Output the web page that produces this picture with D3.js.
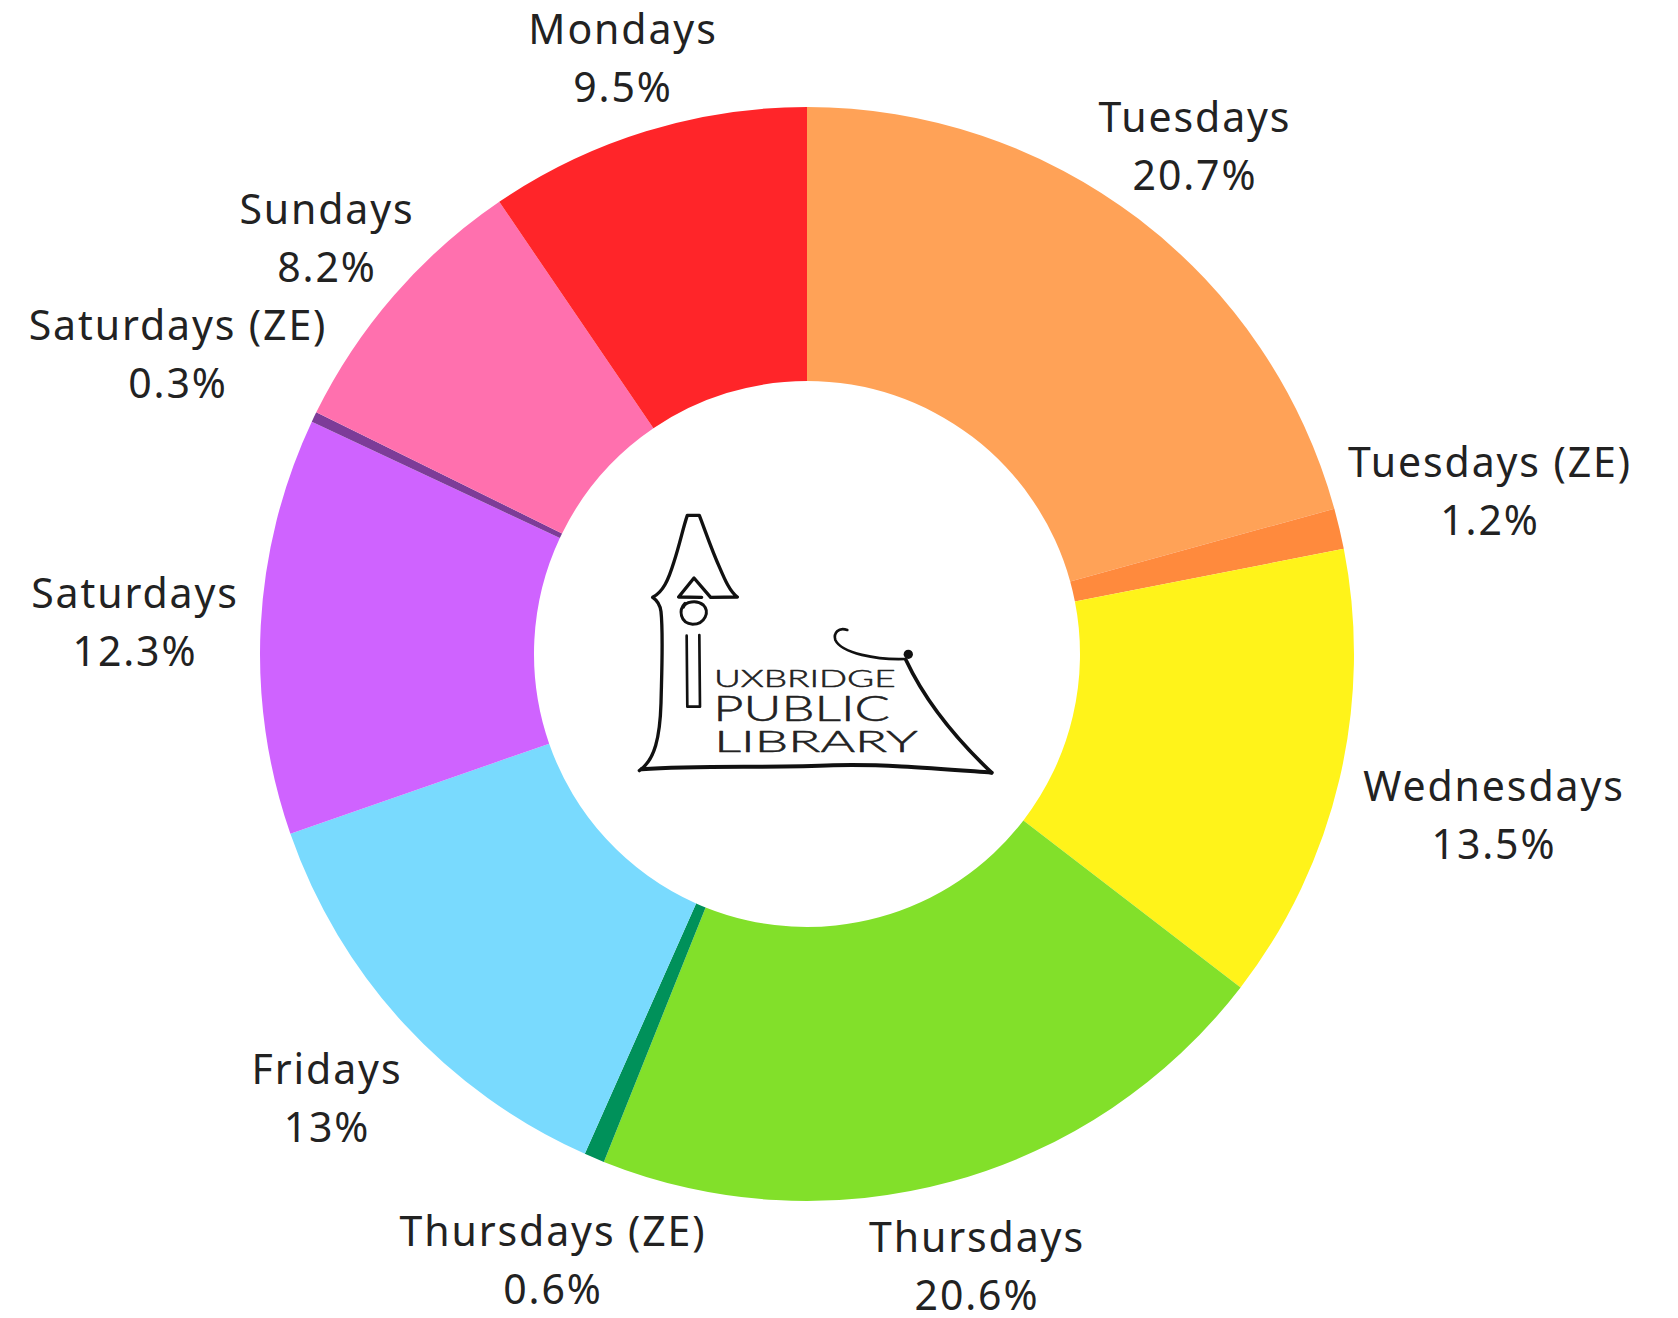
<!DOCTYPE html>
<html><head><meta charset="utf-8">
<style>html,body{margin:0;padding:0;background:#fff;overflow:hidden}svg{display:block}</style>
<script src="https://cdn.jsdelivr.net/npm/d3@7"></script></head>
<body><svg id="chart" width="1678" height="1318"></svg>
<script>
const categories=["Tuesdays","Tuesdays (ZE)","Wednesdays","Thursdays","Thursdays (ZE)","Fridays","Saturdays","Saturdays (ZE)","Sundays","Mondays"];
const values=[20.7,1.2,13.5,20.6,0.6,13,12.3,0.3,8.2,9.5];
const colors=["#FFA257","#FF8A3D","#FFF31A","#82E02A","#00915A","#79DAFE","#CF63FF","#7D3C98","#FF70AE","#FF2529"];
const labelX=[1195,1490,1494,977,553,327,135,178,327,623];
const labelY=[132,477,801,1252,1246,1084,608,340,224,44];
const cx=807,cy=654,rOuter=547,rInner=273,lineGap=58;

const svg=d3.select("#chart");
const pie=d3.pie().sort(null).value(d=>d)(values);
const arc=d3.arc().innerRadius(rInner).outerRadius(rOuter);
const g=svg.append("g").attr("transform",`translate(${cx},${cy})`);
g.selectAll("path").data(pie).join("path").attr("d",arc).attr("fill",(d,i)=>colors[i]);

const labels=svg.append("g").attr("font-family","'Noto Sans',sans-serif").attr("font-size",41).attr("fill","#222").attr("text-anchor","middle").attr("letter-spacing",1.9);
categories.forEach((c,i)=>{
  labels.append("text").attr("x",labelX[i]).attr("y",labelY[i]).text(c);
  labels.append("text").attr("x",labelX[i]).attr("y",labelY[i]+lineGap).text(values[i]+"%");
});

const logo=svg.append("g").attr("transform","translate(600,490) scale(0.3333)").attr("fill","none").attr("stroke","#111").attr("stroke-linecap","round").attr("stroke-linejoin","round");
const logoPaths=[
 ["M118,842 C165,810 180,740 183,640 C186,520 190,430 183,365 C180,340 170,330 158,322 C190,305 205,270 222,215 C240,160 250,110 262,76 L298,76 C315,120 335,180 360,235 C375,270 390,305 412,321 L332,322 L282,264 L236,321 L305,322",10],
 ["M255,340 C235,360 240,400 278,403 C315,403 330,365 310,345 C290,328 255,335 250,352",9],
 ["M260,437 L262,650 L300,650 L298,435",8],
 ["M125,838 C300,825 500,835 700,826 C850,822 1000,835 1175,848",12],
 ["M918,510 C960,600 1040,720 1175,848",11],
 ["M742,420 C715,410 700,430 706,450 C725,490 830,510 915,507",8]
];
logoPaths.forEach(p=>logo.append("path").attr("d",p[0]).attr("stroke-width",p[1]));
logo.append("circle").attr("cx",925).attr("cy",493).attr("r",14).attr("fill","#111").attr("stroke","none");
const logoWords=[["UXBRIDGE",342,590,72,545],["PUBLIC",340,693,105,530],["LIBRARY",343,785,90,610]];
logoWords.forEach(w=>logo.append("text").text(w[0]).attr("x",w[1]).attr("y",w[2]).attr("font-size",w[3]).attr("textLength",w[4]).attr("lengthAdjust","spacingAndGlyphs").attr("font-family","Lato,sans-serif").attr("font-weight",300).attr("fill","#222").attr("stroke","#222").attr("stroke-width",1.5));
</script></body></html>
